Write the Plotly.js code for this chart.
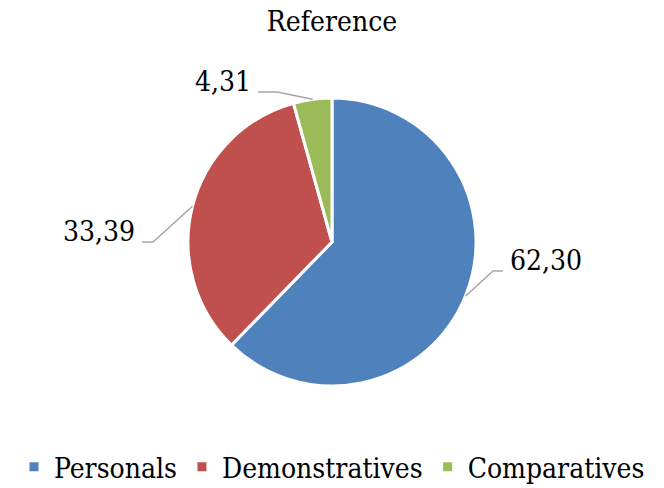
<!DOCTYPE html>
<html><head><meta charset="utf-8">
<script src="https://cdn.plot.ly/plotly-3.0.1.min.js"></script>
<style>html,body{margin:0;padding:0;background:#fff}#c{width:664px;height:488px}</style>
</head><body><div id="c"></div>
<script>
// ---- data ----
const categories = ["Personals", "Demonstratives", "Comparatives"];
const values = [62.30, 33.39, 4.31];
const chartTitle = "Reference";

// ---- style / layout config ----
const colors = ["#4F81BD", "#C0504D", "#9BBB59"];
const font = "DejaVu Serif Condensed, DejaVu Serif";
const W = 664, H = 488, M = {l: 0, r: 0, t: 98, b: 102};
const labelCfg = [
  {ex: 27.6, ey: -25.2, tail: 10, side: "left"},
  {ex: -39.5, ey: 35.8, tail: -11, side: "right"},
  {ex: -35.5, ey: -7.3, tail: -19, side: "right"}
];

const plotW = W - M.l - M.r, plotH = H - M.t - M.b;
const cx = M.l + plotW / 2, cy = M.t + plotH / 2, R = Math.min(plotW, plotH) / 2;
const px2x = p => (p - M.l) / plotW;
const py2y = p => (M.t + plotH - p) / plotH;

const total = values.reduce((a, b) => a + b, 0);
const shapes = [], annotations = [];
let cum = 0;
values.forEach((v, i) => {
  const mid = (cum + v / 2) / total * 2 * Math.PI;
  cum += v;
  const exPt = cx + R * Math.sin(mid), eyPt = cy - R * Math.cos(mid);
  const c = labelCfg[i];
  const bx = exPt + c.ex, by = eyPt + c.ey;
  const tx = bx + c.tail;
  shapes.push({
    type: "path", xref: "paper", yref: "paper",
    path: `M ${px2x(exPt)} ${py2y(eyPt)} L ${px2x(bx)} ${py2y(by)} L ${px2x(tx)} ${py2y(by)}`,
    line: {color: "#A6A6A6", width: 1.5}
  });
  annotations.push({
    xref: "paper", yref: "paper",
    x: px2x(tx + (c.side === "left" ? 5 : -5)), y: py2y(by - 11),
    xanchor: c.side, yanchor: "middle", showarrow: false,
    text: v.toFixed(2).replace(".", ","),
    font: {family: font, size: 28, color: "#000"}
  });
});

Plotly.newPlot("c", [{
  type: "pie",
  labels: categories,
  values: values,
  sort: false,
  direction: "clockwise",
  rotation: 0,
  marker: {colors: colors, line: {color: "#ffffff", width: 3}},
  textinfo: "none",
  hoverinfo: "none"
}], {
  width: W, height: H,
  separators: ", ",
  margin: M,
  paper_bgcolor: "#fff",
  title: {text: chartTitle, font: {family: font, size: 28, color: "#000"}, x: 0.5, xanchor: "center", y: 1 - 21 / H, yanchor: "middle"},
  showlegend: true,
  legend: {orientation: "h", x: 0.5, xanchor: "center", yref: "container", y: 1 - 467 / H, yanchor: "middle",
    font: {family: font, size: 28, color: "#000"}, itemwidth: 30, traceorder: "normal"},
  shapes: shapes,
  annotations: annotations
}, {staticPlot: true});
</script></body></html>
